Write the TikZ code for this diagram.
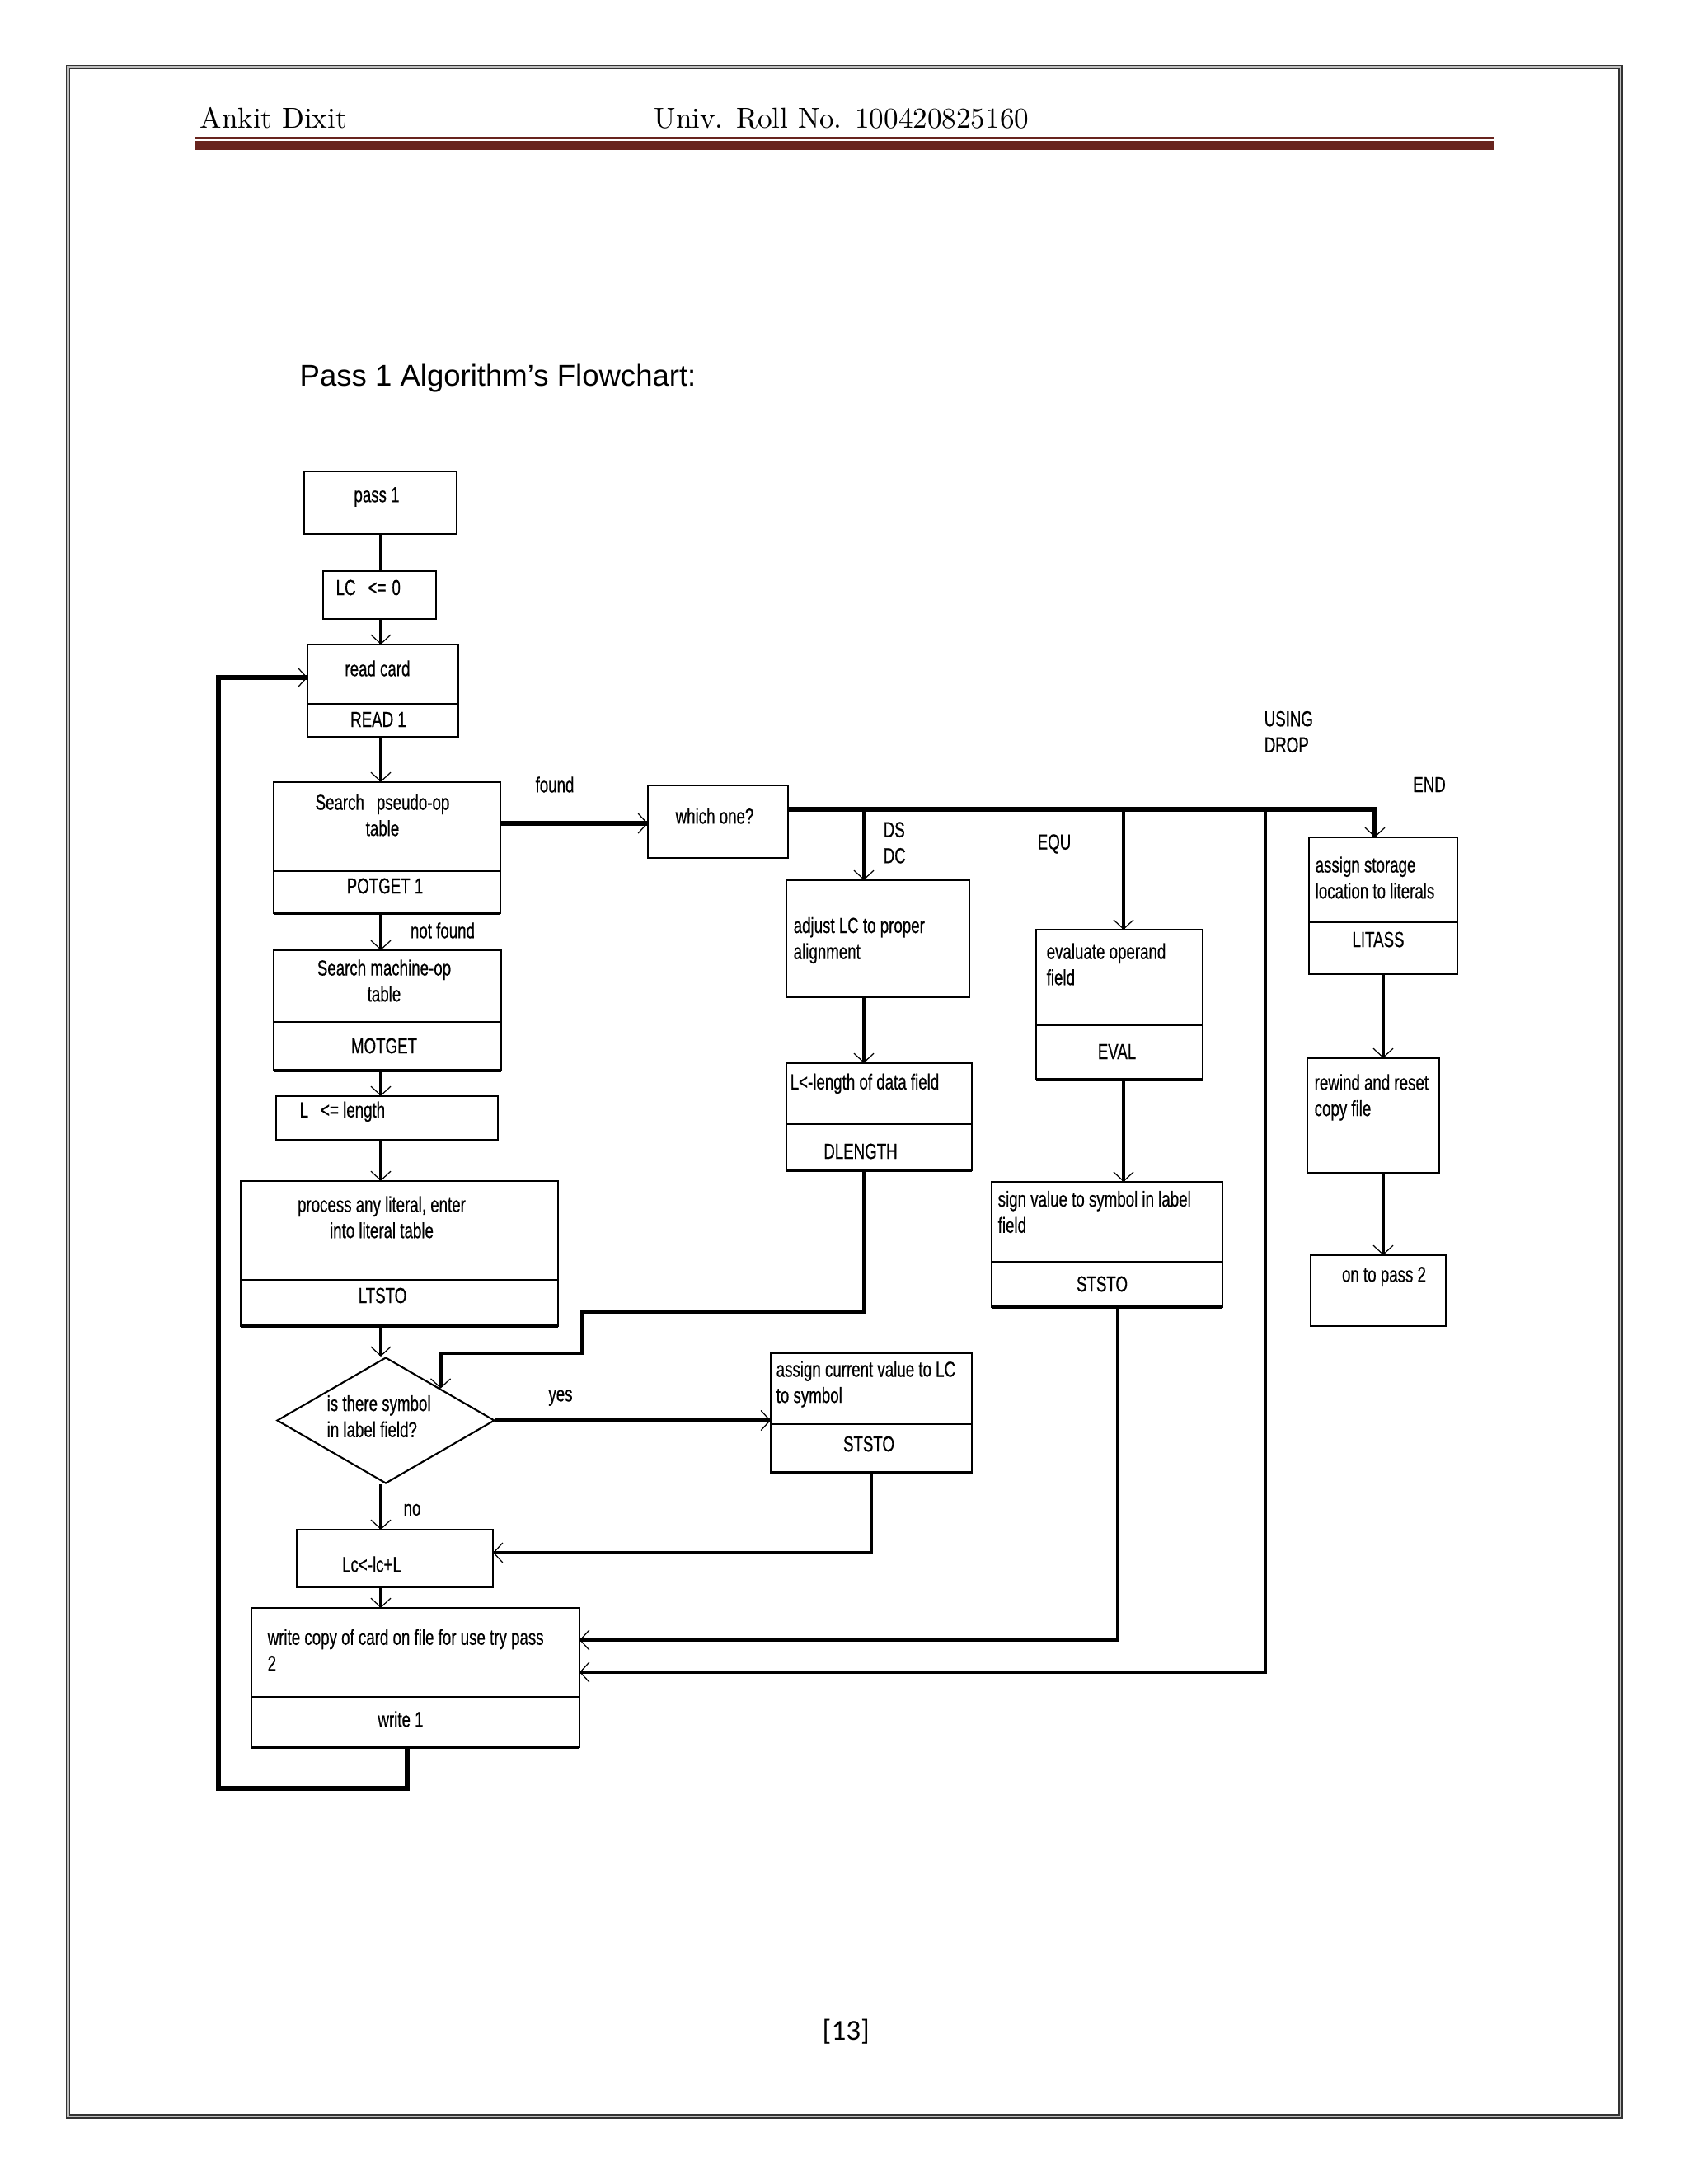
\documentclass[tikz,border=0pt]{standalone}
\usepackage{fontspec}
\usepackage{tikz}
\usetikzlibrary{arrows.meta,shapes.geometric,positioning}
\newfontfamily\chartfont[FakeStretch=0.71,FakeBold=0.5]{Liberation Sans}
\newfontfamily\titlefont{Liberation Sans}
\newfontfamily\footfont{Carlito}
\definecolor{rulered}{RGB}{104,36,30}
\begin{document}
\begin{tikzpicture}[
  >={Straight Barb[length=1.1mm,width=2.4mm,line width=0.35pt 0 1]},
  box/.style={draw,line width=0.6pt,inner sep=0pt,outer sep=0pt,anchor=north west},
  part/.style={draw,line width=0.6pt,inner sep=0pt,outer sep=0pt},
  base/.style={line width=1.2pt},
  conn/.style={line width=1.25pt},
  heavy/.style={line width=1.5pt},
  txt/.style={font=\chartfont\fontsize{7.5}{9}\selectfont,inner sep=0pt}]
%page and header
\path[use as bounding box,fill=white] (0,0) rectangle (20.48,-26.5);
\draw[line width=1.7pt,black!80] (0.825,-0.815) rectangle (19.66,-25.68);
\draw[line width=0.6pt,black!25] (0.825,-0.815) rectangle (19.66,-25.68);
\node[anchor=base west,inner sep=0pt] (name) at (2.42,-1.55) {Ankit Dixit};
\node[anchor=base west,inner sep=0pt] (roll) at (7.93,-1.55) {Univ. Roll No. 100420825160};
\fill[rulered] (2.36,-1.665) rectangle (18.12,-1.69); \fill[rulered] (2.36,-1.71) rectangle (18.12,-1.82);
\node[anchor=base west,inner sep=0pt,font=\titlefont\fontsize{10.4}{12}\selectfont] (title) at (3.63,-4.68) {Pass 1 Algorithm’s Flowchart:};
\node[anchor=base west,inner sep=0pt,font=\footfont\fontsize{10}{12}\selectfont] (page) at (9.97,-24.75) {[13]};
%main column
\node[box,minimum width=1.85cm,minimum height=0.76cm] (pass1) at (3.69,-5.72) {};
\node[box,minimum width=1.37cm,minimum height=0.58cm] (lc0) at (3.92,-6.93) {};
\node[box,minimum width=1.83cm,minimum height=0.72cm] (readcard) at (3.73,-7.82) {};
\node[part,minimum width=1.83cm,minimum height=0.40cm,below=0cm of readcard] (readone) {};
\node[box,minimum width=2.75cm,minimum height=1.08cm] (pseudo) at (3.32,-9.49) {};
\node[part,minimum width=2.75cm,minimum height=0.51cm,below=0cm of pseudo] (potget) {};
\node[box,minimum width=2.76cm,minimum height=0.87cm] (machine) at (3.32,-11.53) {};
\node[part,minimum width=2.76cm,minimum height=0.59cm,below=0cm of machine] (motget) {};
\node[box,minimum width=2.69cm,minimum height=0.53cm] (lenL) at (3.35,-13.30) {};
\node[box,minimum width=3.85cm,minimum height=1.20cm] (literal) at (2.92,-14.33) {};
\node[part,minimum width=3.85cm,minimum height=0.56cm,below=0cm of literal] (ltsto) {};
\node[draw,diamond,line width=0.6pt,inner sep=0pt,minimum width=2.64cm,minimum height=1.53cm] (symq) at (4.68,-17.235) {};
\node[box,minimum width=2.38cm,minimum height=0.70cm] (lcinc) at (3.60,-18.56) {};
\node[box,minimum width=3.98cm,minimum height=1.08cm] (writecopy) at (3.05,-19.51) {};
\node[part,minimum width=3.98cm,minimum height=0.61cm,below=0cm of writecopy] (writeone) {};
%pseudo-op branches
\node[box,minimum width=1.70cm,minimum height=0.88cm] (whichone) at (7.86,-9.53) {};
\node[box,minimum width=2.22cm,minimum height=1.42cm] (adjust) at (9.54,-10.68) {};
\node[box,minimum width=2.25cm,minimum height=0.74cm] (datalen) at (9.54,-12.90) {};
\node[part,minimum width=2.25cm,minimum height=0.56cm,below=0cm of datalen] (dlength) {};
\node[box,minimum width=2.44cm,minimum height=0.86cm] (assigncur) at (9.35,-16.42) {};
\node[part,minimum width=2.44cm,minimum height=0.59cm,below=0cm of assigncur] (ststoA) {};
\node[box,minimum width=2.02cm,minimum height=1.16cm] (evaluate) at (12.57,-11.28) {};
\node[part,minimum width=2.02cm,minimum height=0.66cm,below=0cm of evaluate] (eval) {};
\node[box,minimum width=2.80cm,minimum height=0.97cm] (signval) at (12.03,-14.34) {};
\node[part,minimum width=2.80cm,minimum height=0.55cm,below=0cm of signval] (ststoB) {};
\node[box,minimum width=1.80cm,minimum height=1.03cm] (litstore) at (15.88,-10.16) {};
\node[part,minimum width=1.80cm,minimum height=0.63cm,below=0cm of litstore] (litass) {};
\node[box,minimum width=1.60cm,minimum height=1.39cm] (rewind) at (15.86,-12.84) {};
\node[box,minimum width=1.64cm,minimum height=0.86cm] (passtwo) at (15.90,-15.23) {};
%heavy bottom edges
\foreach \b in {potget,motget,ltsto,writeone,dlength,ststoA,eval,ststoB}
  \draw[base] (\b.south west) -- (\b.south east);
%texts
\node[txt] (pass1T) at (4.57,-6.03) {pass 1};
\node[txt,anchor=west] (lc0T) at (4.07,-7.13) {LC\hspace{0.15cm}<=\hspace{0.07cm}0};
\node[txt] (readcardT) at (4.58,-8.11) {read card};
\node[txt] (readoneT) at (4.59,-8.73) {READ 1};
\node[txt,align=center] (pseudoT) at (4.64,-9.89) {Search\hspace{0.15cm}pseudo-op\\table};
\node[txt] (potgetT) at (4.67,-10.75) {POTGET 1};
\node[txt] (notfound) at (5.37,-11.29) {not found};
\node[txt,align=center] (machineT) at (4.66,-11.90) {Search machine-op\\table};
\node[txt] (motgetT) at (4.66,-12.69) {MOTGET};
\node[txt,anchor=west] (lenLT) at (3.63,-13.49) {L\hspace{0.15cm}<= length};
\node[txt,align=center] (literalT) at (4.63,-14.77) {process any literal, enter\\into literal table};
\node[txt] (ltstoT) at (4.64,-15.72) {LTSTO};
\node[txt,align=left,anchor=west] (symqT) at (3.96,-17.185) {is there symbol\\in label field?};
\node[txt] (yes) at (6.80,-16.96) {yes};
\node[txt] (no) at (5.00,-18.32) {no};
\node[txt] (lcincT) at (4.51,-18.98) {Lc<-lc+L};
\node[txt,align=left,anchor=west] (writecopyT) at (3.24,-20.02) {write copy of card on file for use try pass\\2};
\node[txt] (writeoneT) at (4.86,-20.86) {write 1};
\node[txt] (found) at (6.73,-9.52) {found};
\node[txt] (whichoneT) at (8.67,-9.90) {which one?};
\node[txt,align=left,anchor=west] (dsdcT) at (10.71,-10.225) {DS\\DC};
\node[txt] (equT) at (12.79,-10.24) {EQU};
\node[txt,align=left,anchor=west] (usingT) at (15.33,-8.88) {USING\\DROP};
\node[txt] (endT) at (17.34,-9.52) {END};
\node[txt,align=left,anchor=west] (adjustT) at (9.62,-11.41) {adjust LC to proper\\alignment};
\node[txt,anchor=west] (datalenT) at (9.58,-13.15) {L<-length of data field};
\node[txt] (dlengthT) at (10.44,-13.97) {DLENGTH};
\node[txt,align=left,anchor=west] (evaluateT) at (12.69,-11.70) {evaluate operand\\field};
\node[txt] (evalT) at (13.55,-12.76) {EVAL};
\node[txt,align=left,anchor=west] (signvalT) at (12.10,-14.705) {sign value to symbol in label\\field};
\node[txt] (ststoBT) at (13.37,-15.58) {STSTO};
\node[txt,align=left,anchor=west] (assigncurT) at (9.41,-16.795) {assign current value to LC\\to symbol};
\node[txt] (ststoAT) at (10.54,-17.52) {STSTO};
\node[txt,align=left,anchor=west] (litstoreT) at (15.95,-10.65) {assign storage\\location to literals};
\node[txt] (litassT) at (16.72,-11.40) {LITASS};
\node[txt,align=left,anchor=west] (rewindT) at (15.94,-13.315) {rewind and reset\\copy file};
\node[txt] (passtwoT) at (16.79,-15.49) {on to pass 2};
%main column connectors
\coordinate (sp) at (4.62,0);
\draw[conn] (sp |- pass1.south) -- (sp |- lc0.north);
\draw[conn,->] (sp |- lc0.south) -- (sp |- readcard.north);
\draw[conn,->] (sp |- readone.south) -- (sp |- pseudo.north);
\draw[conn,->] (sp |- potget.south) -- (sp |- machine.north);
\draw[conn,->] (sp |- motget.south) -- (sp |- lenL.north);
\draw[conn,->] (sp |- lenL.south) -- (sp |- literal.north);
\draw[conn,->] (sp |- ltsto.south) -- (sp |- symq.north);
\draw[conn,->] (sp |- symq.south) -- (sp |- lcinc.north);
\draw[conn,->] (sp |- lcinc.south) -- (sp |- writecopy.north);
%loop back to read card
\coordinate (loopc) at (2.65,-21.70);
\draw[heavy,->] ([xshift=-0.1cm]writeone.south) |- (loopc) |- ([yshift=-0.04cm]readcard.west);
%found, and the bus out of which one?
\draw[heavy,->] ([yshift=0.04cm]pseudo.east) -- ([yshift=0.04cm]pseudo.east -| whichone.west);
\coordinate (dsdc) at (10.48,-9.82); \coordinate (equ) at (13.63,-9.82); \coordinate (using) at (15.35,-9.82);
\draw[heavy,->] ([yshift=0.15cm]whichone.east) -| ([xshift=-0.1cm]litstore.north);
\draw[conn,->] (dsdc) -- (dsdc |- adjust.north);
\draw[conn,->] (dsdc |- adjust.south) -- (dsdc |- datalen.north);
\draw[conn,->] (dsdc |- dlength.south) |- (7.06,-15.92) -- (7.06,-16.42) -| (symq.north east);
\draw[conn,->] (equ) -- (equ |- evaluate.north);
\draw[conn,->] (equ |- eval.south) -- (equ |- signval.north);
\draw[conn,->] ([xshift=0.13cm]ststoB.south) |- ([yshift=0.15cm]writecopy.east);
\draw[conn,->] (using) |- ([yshift=-0.24cm]writecopy.east);
%yes branch
\draw[heavy,->] (symq.east) -- (symq.east -| assigncur.west);
\draw[conn,->] (ststoA.south) |- ([yshift=0.07cm]lcinc.east);
%END branch
\draw[conn,->] (litass.south) -- (litass.south |- rewind.north);
\draw[conn,->] (litass.south |- rewind.south) -- (litass.south |- passtwo.north);
\end{tikzpicture}
\end{document}
